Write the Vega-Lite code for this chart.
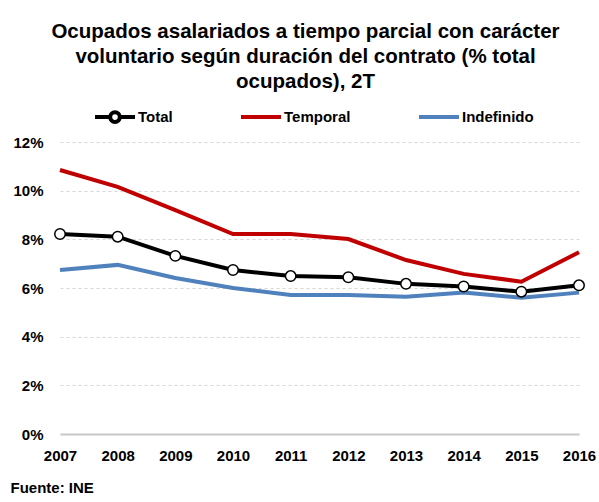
{
  "$schema": "https://vega.github.io/schema/vega-lite/v6.json",
  "width": 519,
  "height": 292,
  "autosize": {"type": "none"},
  "padding": {"left": 60, "top": 142, "right": 20, "bottom": 68},
  "background": "white",
  "title": {
    "text": ["Ocupados asalariados a tiempo parcial con carácter", "voluntario según duración del contrato (% total", "ocupados), 2T"],
    "font": "Liberation Sans",
    "fontSize": 20.5,
    "fontWeight": "bold",
    "color": "black",
    "anchor": "middle",
    "dx": -14,
    "lineHeight": 25,
    "offset": 3
  },
  "data": {
    "values": [
      {"year": "2007", "serie": "Total", "v": 8.22},
      {"year": "2008", "serie": "Total", "v": 8.11},
      {"year": "2009", "serie": "Total", "v": 7.32},
      {"year": "2010", "serie": "Total", "v": 6.74},
      {"year": "2011", "serie": "Total", "v": 6.49},
      {"year": "2012", "serie": "Total", "v": 6.44},
      {"year": "2013", "serie": "Total", "v": 6.17},
      {"year": "2014", "serie": "Total", "v": 6.06},
      {"year": "2015", "serie": "Total", "v": 5.85},
      {"year": "2016", "serie": "Total", "v": 6.11},
      {"year": "2007", "serie": "Temporal", "v": 10.85},
      {"year": "2008", "serie": "Temporal", "v": 10.16},
      {"year": "2009", "serie": "Temporal", "v": 9.2},
      {"year": "2010", "serie": "Temporal", "v": 8.22},
      {"year": "2011", "serie": "Temporal", "v": 8.22},
      {"year": "2012", "serie": "Temporal", "v": 8.01},
      {"year": "2013", "serie": "Temporal", "v": 7.15},
      {"year": "2014", "serie": "Temporal", "v": 6.58},
      {"year": "2015", "serie": "Temporal", "v": 6.26},
      {"year": "2016", "serie": "Temporal", "v": 7.47},
      {"year": "2007", "serie": "Indefinido", "v": 6.74},
      {"year": "2008", "serie": "Indefinido", "v": 6.95},
      {"year": "2009", "serie": "Indefinido", "v": 6.41},
      {"year": "2010", "serie": "Indefinido", "v": 6.0},
      {"year": "2011", "serie": "Indefinido", "v": 5.71},
      {"year": "2012", "serie": "Indefinido", "v": 5.71},
      {"year": "2013", "serie": "Indefinido", "v": 5.64},
      {"year": "2014", "serie": "Indefinido", "v": 5.81},
      {"year": "2015", "serie": "Indefinido", "v": 5.6},
      {"year": "2016", "serie": "Indefinido", "v": 5.81}
    ]
  },
  "encoding": {
    "x": {
      "field": "year",
      "type": "ordinal",
      "scale": {"type": "point", "padding": 0},
      "axis": {
        "labelAngle": 0,
        "labelFont": "Liberation Sans",
        "labelFontSize": 15,
        "labelFontWeight": "bold",
        "labelColor": "black",
        "labelPadding": 14,
        "ticks": false,
        "domainColor": "#c8c8c8",
        "domainWidth": 2,
        "title": "Fuente: INE",
        "titleFont": "Liberation Sans",
        "titleFontSize": 15,
        "titleFontWeight": "bold",
        "titleColor": "black",
        "titleAnchor": "start",
        "titleAlign": "left",
        "titleBaseline": "middle",
        "titleX": -50,
        "titleY": 53
      }
    },
    "y": {
      "field": "v",
      "type": "quantitative",
      "scale": {"domain": [0, 12], "nice": false},
      "axis": {
        "values": [0, 2, 4, 6, 8, 10, 12],
        "labelExpr": "datum.value + '%'",
        "labelFont": "Liberation Sans",
        "labelFontSize": 15,
        "labelFontWeight": "bold",
        "labelColor": "black",
        "labelPadding": 17,
        "ticks": false,
        "domain": false,
        "grid": true,
        "gridColor": "#d6d6d6",
        "gridDash": [3, 3],
        "gridWidth": 1,
        "title": null
      }
    }
  },
  "layer": [
    {
      "mark": {"type": "line", "strokeWidth": 4},
      "encoding": {
        "color": {
          "field": "serie",
          "type": "nominal",
          "sort": ["Total", "Temporal", "Indefinido"],
          "scale": {"domain": ["Total", "Temporal", "Indefinido"], "range": ["#000000", "#c00000", "#4f81bd"]},
          "legend": {
            "orient": "none",
            "legendX": 33,
            "legendY": -47,
            "direction": "horizontal",
            "title": null,
            "symbolType": "stroke",
            "symbolSize": 1600,
            "symbolStrokeWidth": 4,
            "labelFont": "Liberation Sans",
            "labelFontSize": 15,
            "labelFontWeight": "bold",
            "labelColor": "black",
            "labelOffset": 1,
            "columnPadding": 60,
            "encode": {
              "symbols": {
                "update": {
                  "shape": {"signal": "datum.label === 'Total' ? 'M-1,0L-0.26,0M0.26,0L1,0M0.24,0A0.24,0.24,0,1,1,-0.24,0A0.24,0.24,0,1,1,0.24,0Z' : 'M-1,0L1,0M0,-0.24L0,-0.24M0,0.24L0,0.24'"},
                  "fill": {"signal": "datum.label === 'Total' ? 'white' : 'transparent'"}
                }
              }
            }
          }
        },
        "order": {"field": "year"}
      }
    },
    {
      "transform": [{"filter": "datum.serie === 'Total'"}],
      "mark": {"type": "point", "shape": "circle", "filled": true, "fill": "white", "stroke": "black", "strokeWidth": 1.5, "size": 110, "opacity": 1}
    }
  ],
  "config": {
    "view": {"stroke": null}
  }
}
